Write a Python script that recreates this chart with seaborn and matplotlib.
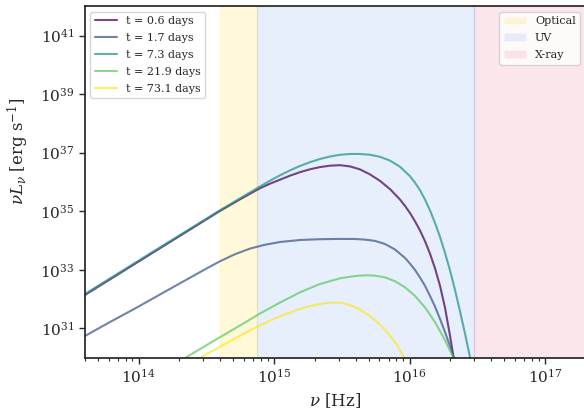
import numpy as np
import pandas as pd
import matplotlib
matplotlib.use("Agg")
import matplotlib.pyplot as plt
from matplotlib.patches import Patch
from matplotlib.lines import Line2D
from matplotlib.ticker import LogLocator, NullLocator
import seaborn as sns

# ---- data (log10 values) ----
labels = ["t = 0.6 days", "t = 1.7 days", "t = 7.3 days", "t = 21.9 days", "t = 73.1 days"]

lognu_06 = [13.603, 14.083, 14.600, 14.748, 14.896, 14.970, 15.044, 15.117, 15.191, 15.265,
            15.339, 15.413, 15.487, 15.561, 15.634, 15.708, 15.782, 15.856, 15.930, 15.967,
            16.004, 16.041, 16.078, 16.115, 16.151, 16.188, 16.225, 16.262, 16.299, 16.321,
            16.343]
logL_06 = [32.138, 33.522, 35.009, 35.405, 35.788, 35.942, 36.079, 36.215, 36.335, 36.434,
           36.509, 36.557, 36.574, 36.533, 36.431, 36.260, 36.038, 35.757, 35.399, 35.180,
           34.937, 34.653, 34.339, 33.970, 33.553, 33.054, 32.459, 31.707, 30.750, 30.122,
           29.472]

lognu_17 = [13.603, 13.788, 13.973, 14.157, 14.342, 14.490, 14.600, 14.711, 14.822, 14.933,
            15.044, 15.191, 15.339, 15.487, 15.598, 15.671, 15.745, 15.819, 15.893, 15.967,
            16.004, 16.041, 16.078, 16.115, 16.151, 16.188, 16.225, 16.262, 16.299, 16.336,
            16.373]
logL_17 = [30.737, 31.215, 31.677, 32.155, 32.634, 33.016, 33.290, 33.532, 33.724, 33.857,
           33.949, 34.018, 34.045, 34.055, 34.052, 34.031, 33.987, 33.881, 33.693, 33.403,
           33.208, 32.992, 32.733, 32.446, 32.111, 31.745, 31.325, 30.874, 30.395, 29.882,
           29.336]

lognu_73 = [13.603, 14.083, 14.600, 14.748, 14.896, 14.970, 15.044, 15.117, 15.191, 15.265,
            15.339, 15.413, 15.487, 15.561, 15.634, 15.708, 15.782, 15.856, 15.930, 16.004,
            16.041, 16.078, 16.115, 16.151, 16.188, 16.225, 16.262, 16.299, 16.336, 16.373,
            16.410, 16.447, 16.484]
logL_73 = [32.172, 33.553, 35.033, 35.440, 35.846, 36.044, 36.229, 36.396, 36.547, 36.677,
           36.786, 36.871, 36.930, 36.957, 36.957, 36.930, 36.861, 36.731, 36.519, 36.195,
           35.973, 35.716, 35.395, 35.033, 34.602, 34.127, 33.580, 32.982, 32.309, 31.581,
           30.815, 30.009, 29.103]

lognu_219 = [14.305, 14.453, 14.600, 14.748, 14.896, 15.044, 15.191, 15.339, 15.487, 15.598,
             15.671, 15.745, 15.819, 15.893, 15.967, 16.041, 16.115, 16.188, 16.262, 16.314,
             16.351]
logL_219 = [29.882, 30.293, 30.696, 31.096, 31.506, 31.882, 32.230, 32.514, 32.709, 32.787,
            32.811, 32.801, 32.740, 32.610, 32.401, 32.104, 31.711, 31.215, 30.600, 30.088,
            29.660]

lognu_731 = [14.416, 14.527, 14.637, 14.748, 14.859, 14.970, 15.044, 15.117, 15.191, 15.265,
             15.339, 15.413, 15.487, 15.561, 15.634, 15.708, 15.782, 15.856, 15.908, 15.952,
             15.989]
logL_731 = [29.900, 30.180, 30.463, 30.744, 31.017, 31.263, 31.410, 31.540, 31.660, 31.762,
            31.834, 31.875, 31.878, 31.796, 31.643, 31.420, 31.130, 30.754, 30.429, 30.053,
            29.677]

band_names = ["Optical", "UV", "X-ray"]
band_lo = [4e14, 7.5e14, 3e16]
band_hi = [7.5e14, 3e16, 1e18]
band_colors = ["gold", "cornflowerblue", "crimson"]
band_alpha = [0.15, 0.15, 0.1]

series = [(lognu_06, logL_06), (lognu_17, logL_17), (lognu_73, logL_73),
          (lognu_219, logL_219), (lognu_731, logL_731)]

frames = []
for lab, (ln, ll) in zip(labels, series):
    frames.append(pd.DataFrame({"nu": 10.0 ** np.array(ln), "L": 10.0 ** np.array(ll), "t": lab}))
df = pd.concat(frames, ignore_index=True)

sns.set_theme(style="ticks")
plt.rcParams["font.family"] = ["DejaVu Serif"]
plt.rcParams["mathtext.fontset"] = "dejavuserif"

fig = plt.figure(figsize=(5.84, 4.09), dpi=100)
ax = fig.add_axes([0.1452, 0.1257, 0.8577, 0.8587])

colors = [plt.cm.viridis(v) for v in np.linspace(0, 1, 5)]

for lo, hi, c, a in zip(band_lo, band_hi, band_colors, band_alpha):
    ax.axvspan(lo, hi, color=c, alpha=a, zorder=0)

sns.lineplot(data=df, x="nu", y="L", hue="t", palette=colors, sort=False,
             estimator=None, alpha=0.72, linewidth=1.5, ax=ax, legend=False,
             solid_joinstyle="round")

ax.set_xscale("log")
ax.set_yscale("log")
ax.set_xlim(4e13, 2e17)
ax.set_ylim(1e30, 1e42)
ax.set_yticks([10.0 ** k for k in range(31, 42, 2)])
ax.yaxis.set_minor_locator(NullLocator())
ax.xaxis.set_minor_locator(LogLocator(base=10, subs=np.arange(2, 10), numticks=20))
ax.tick_params(axis="both", which="major", labelsize=11, length=4, width=1)
ax.tick_params(axis="x", which="minor", length=2.5, width=0.8)
ax.set_xlabel(r"$\nu$ [Hz]", fontsize=12)
ax.set_ylabel(r"$\nu L_\nu$ [erg s$^{-1}$]", fontsize=12)
ax.yaxis.set_label_coords(-0.108, 0.587)

line_handles = [Line2D([0], [0], color=c, alpha=0.72, lw=1.5) for c in colors]
leg1 = ax.legend(line_handles, labels, loc="upper left", fontsize=8, labelspacing=0.62)
ax.add_artist(leg1)
band_handles = [Patch(facecolor=c, alpha=a) for c, a in zip(band_colors, band_alpha)]
ax.legend(band_handles, band_names, loc="upper right", fontsize=8, labelspacing=0.62)

fig.savefig("out.png", dpi=100)
